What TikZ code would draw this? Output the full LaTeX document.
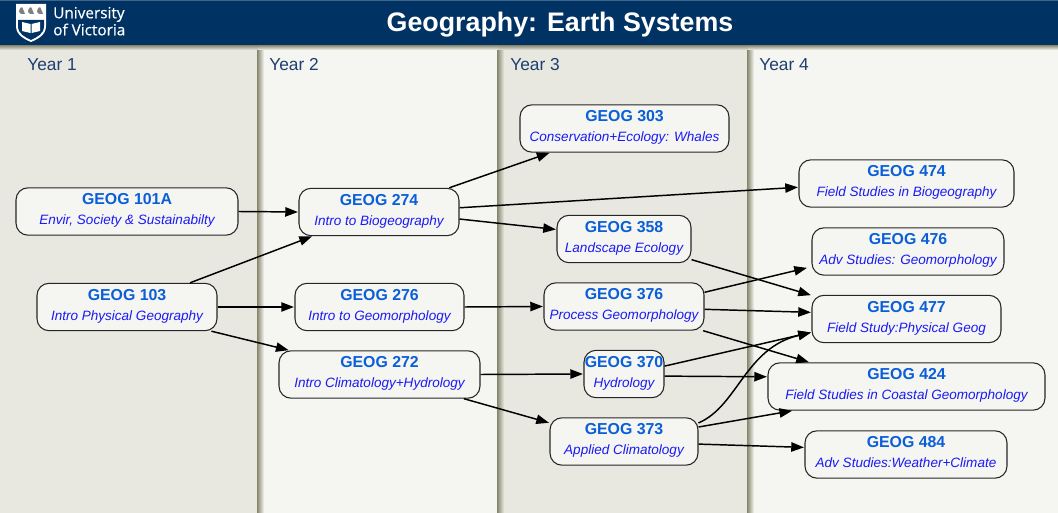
\documentclass[tikz,border=0pt]{standalone}
\usepackage{fontspec}
\setmainfont{Liberation Sans}
\newfontfamily\logofont[FakeBold=0.5]{Open Sans}
\usetikzlibrary{arrows.meta}
\definecolor{headerblue}{HTML}{003263}
\definecolor{bandgrey}{HTML}{E8E7E0}
\definecolor{bandlight}{HTML}{F5F5F1}
\definecolor{edgeolive}{HTML}{85856C}
\definecolor{yearblue}{HTML}{1D4070}
\definecolor{codeblue}{HTML}{0A5FD8}
\definecolor{titleblue}{HTML}{1A1AF5}
\newcommand{\course}[2]{\textcolor{codeblue}{\fontsize{11.9}{15}\selectfont\bfseries #1}\\\textcolor{titleblue}{\fontsize{10.15}{15}\selectfont\itshape #2}}
\tikzset{
x=0.75pt, y=-0.75pt, % one unit is one pixel of the reference
course/.style={draw=black!85, line width=0.8pt, fill=bandlight, rounded corners=9pt, align=center, inner sep=0pt, minimum height=35.5pt, text depth=3.8pt, font=\fontsize{10}{15}\selectfont}, % every course box
link/.style={-{Triangle[length=9.5pt,width=7pt]}, line width=1.1pt, black, shorten >=0.4pt}, % every arrow
yearlabel/.style={anchor=west, inner sep=0pt, text=yearblue, font=\fontsize{13}{15}\selectfont},
bandedge/.style={left color=edgeolive, right color=#1, draw=none},
}
\begin{document}
\begin{tikzpicture}
    \useasboundingbox (0,0) rectangle (1058,513);
    % year columns
    \fill[bandgrey] (0,45) rectangle (258,513);
    \fill[bandlight] (258,45) rectangle (498,513);
    \fill[bandgrey] (498,45) rectangle (748,513);
    \fill[bandlight] (748,45) rectangle (1058,513);
    \shade[bandedge=bandlight] (257,45) rectangle (264,513);
    \shade[bandedge=bandgrey] (497,45) rectangle (504,513);
    \shade[bandedge=bandlight] (747,45) rectangle (754,513);
    \shade[top color=edgeolive, bottom color=bandgrey, draw=none] (0,45) rectangle (258,50);
    \shade[top color=edgeolive, bottom color=bandlight, draw=none] (258,45) rectangle (498,50);
    \shade[top color=edgeolive, bottom color=bandgrey, draw=none] (498,45) rectangle (748,50);
    \shade[top color=edgeolive, bottom color=bandlight, draw=none] (748,45) rectangle (1058,50);
    % header
    \fill[headerblue] (0,0) rectangle (1058,45);
    \fill[headerblue!75!white] (0,0) rectangle (1058,1);
    \node[text=white, font=\fontsize{20.1}{24}\selectfont\bfseries] (title) at (560,25) {Geography: Earth Systems};
    % logo
    \fill[white] (16,4) -- (46,4) -- (46,26) .. controls (46,35) and (38,39) .. (31,42) .. controls (24,39) and (16,35) .. (16,26) -- cycle;
    \fill[headerblue] (18,20) -- (44,20) -- (44,26) .. controls (44,34) and (37,37) .. (31,40) .. controls (25,37) and (18,34) .. (18,26) -- cycle;
    \foreach \xi in {22,31,40} {
      \fill[black!50] (\xi-3,12) .. controls (\xi-3,7) and (\xi+1,6) .. (\xi+1,9) -- (\xi+3,14) -- (\xi-1,14) -- cycle;
    }
    \fill[white] (22,22) -- (30.5,24) -- (30.5,33) -- (22,31) -- cycle;
    \fill[white] (40,22) -- (31.5,24) -- (31.5,33) -- (40,31) -- cycle;
    \node[anchor=west, text=white, inner sep=0pt, font=\logofont\fontsize{11.5}{12}\selectfont] (logotop) at (53,14.5) {University};
    \node[anchor=west, text=white, inner sep=0pt, font=\logofont\fontsize{11.5}{12}\selectfont] (logobottom) at (53,29.5) {of Victoria};
    % year labels
    \node[yearlabel] (year1) at (27,65) {Year 1};
    \node[yearlabel] (year2) at (269,65) {Year 2};
    \node[yearlabel] (year3) at (510,65) {Year 3};
    \node[yearlabel] (year4) at (759,65) {Year 4};
    % courses
    \node[course, minimum width=166.5pt] (geog101a) at (127,211.5) {\course{GEOG 101A}{Envir, Society \& Sustainabilty}};
    \node[course, minimum width=135pt] (geog103) at (127,307) {\course{GEOG 103}{Intro Physical Geography}};
    \node[course, minimum width=120pt] (geog274) at (379,212) {\course{GEOG 274}{Intro to Biogeography}};
    \node[course, minimum width=126.75pt] (geog276) at (379.5,307) {\course{GEOG 276}{Intro to Geomorphology}};
    \node[course, minimum width=150.75pt] (geog272) at (379.5,374.5) {\course{GEOG 272}{Intro Climatology+Hydrology}};
    \node[course, minimum width=156.75pt] (geog303) at (624.5,128.5) {\course{GEOG 303}{Conservation+Ecology: Whales}};
    \node[course, minimum width=100.5pt] (geog358) at (624,239) {\course{GEOG 358}{Landscape Ecology}};
    \node[course, minimum width=120pt] (geog376) at (624,306.5) {\course{GEOG 376}{Process Geomorphology}};
    \node[course, minimum width=60pt] (geog370) at (624,374) {\course{GEOG 370}{Hydrology}};
    \node[course, minimum width=111pt] (geog373) at (624,441.5) {\course{GEOG 373}{Applied Climatology}};
    \node[course, minimum width=161.25pt] (geog474) at (906.5,183.5) {\course{GEOG 474}{Field Studies in Biogeography}};
    \node[course, minimum width=144pt] (geog476) at (908,251.5) {\course{GEOG 476}{Adv Studies: Geomorphology}};
    \node[course, minimum width=141.75pt] (geog477) at (906.5,319) {\course{GEOG 477}{Field Study:Physical Geog}};
    \node[course, minimum width=207.75pt] (geog424) at (906.5,386.5) {\course{GEOG 424}{Field Studies in Coastal Geomorphology}};
    \node[course, minimum width=151.5pt] (geog484) at (906,454.5) {\course{GEOG 484}{Adv Studies:Weather+Climate}};
    % prerequisites
    \draw[link] (geog101a.east) -- (geog274.west);
    \draw[link] (geog103.21) -- (geog274.200);
    \draw[link] (geog103.east) -- (geog276.west);
    \draw[link] (geog103.-16) -- (geog272.165);
    \draw[link] (geog274.19) -- (geog303.198);
    \draw[link] (geog274.3.6) -- (geog474.182.4);
    \draw[link] (geog274.-5.7) -- (geog358.172.4);
    \draw[link] (geog276.east) -- (geog376.west);
    \draw[link] (geog272.east) -- (geog370.west);
    \draw[link] (geog272.-16) -- (geog373.166);
    \draw[link] (geog358.-17.4) -- (geog477.166.7);
    \draw[link, shorten >=3.5pt] (geog376.10.3) -- (geog476.189.5);
    \draw[link] (geog376.-2.5) -- (geog477.176.4);
    \draw[link] (geog376.-17.8) -- (geog424.166.5);
    \draw[link] (geog370.11.3) -- (geog477.188.2);
    \draw[link] (geog370.-3) -- (geog424.176.9);
    \draw[link] (geog373.14.2) .. controls (738,406) and (745,348) .. (geog477.188.2);
    \draw[link] (geog373.11.1) -- (geog424.192);
    \draw[link] (geog373.-2.7) -- (geog484.176.9);
\end{tikzpicture}
\end{document}
